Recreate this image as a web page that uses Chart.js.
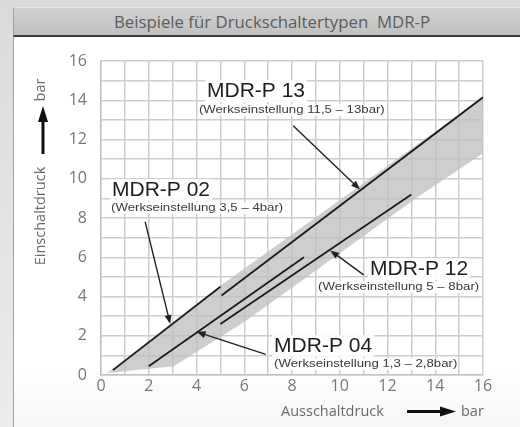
<!DOCTYPE html>
<html>
<head>
<meta charset="utf-8">
<script src="https://cdn.jsdelivr.net/npm/chart.js@4.4.1/dist/chart.umd.min.js"></script>
<style>
  html, body { margin: 0; padding: 0; }
  body {
    width: 520px; height: 427px; position: relative; overflow: hidden;
    background: linear-gradient(#dadada, #ececec);
    font-family: "Open Sans", sans-serif;
  }
  #panel {
    position: absolute; left: 13px; top: 7px; right: 0; bottom: 0;
    background: linear-gradient(#ffffff 85%, #f6f6f6);
    border-left: 1px solid #a0a0a0;
  }
  #titlebar {
    position: absolute; left: 13px; top: 7px; right: 0; height: 27px;
    background: linear-gradient(#d2d2d2, #c0c0c0);
    border-top: 1px solid #e6e6e6; border-left: 1px solid #a0a0a0;
    border-bottom: 2px solid #3c3c3c;
    color: #5c5c5c; font-size: 16.8px; line-height: 27px;
    text-align: center; white-space: pre; padding-left: 10px; box-sizing: content-box;
  }
  #chart { position: absolute; left: 0; top: 0; }
</style>
</head>
<body>
<div id="panel"></div>
<div id="titlebar">Beispiele für Druckschaltertypen  MDR-P</div>
<canvas id="chart" width="520" height="427"></canvas>
<script>
// axis ticks
const xTicks = [0, 2, 4, 6, 8, 10, 12, 14, 16];
const yTicks = [0, 2, 4, 6, 8, 10, 12, 14, 16];

// characteristic lines (Ausschaltdruck -> Einschaltdruck)
const line02 = [{ x: 0.5, y: 0.25 }, { x: 5.0, y: 4.5 }];
const line04 = [{ x: 2.0, y: 0.45 }, { x: 8.5, y: 6.0 }];
const line12 = [{ x: 5.0, y: 2.6 }, { x: 13.0, y: 9.2 }];
const line13 = [{ x: 5.05, y: 4.05 }, { x: 16.0, y: 14.15 }];

// shaded adjustment range
const bandX = [0.25, 5.0, 16.0, 16.0, 13.3, 6.0, 3.05];
const bandY = [0.1, 4.55, 14.15, 11.3, 9.1, 2.7, 0.45];

// annotation texts
const typeNames = ["MDR-P 02", "MDR-P 04", "MDR-P 12", "MDR-P 13"];
const settingTexts = [
  "(Werkseinstellung 3,5 – 4bar)",
  "(Werkseinstellung 1,3 – 2,8bar)",
  "(Werkseinstellung 5 – 8bar)",
  "(Werkseinstellung 11,5 – 13bar)"
];
// arrow tail / head for each type
const arrowTails = [{ x: 1.85, y: 7.8 }, { x: 6.9, y: 1.05 }, { x: 11.0, y: 5.1 }, { x: 8.05, y: 12.7 }];
const arrowHeads = [{ x: 2.9, y: 2.6 }, { x: 4.0, y: 2.2 }, { x: 9.6, y: 6.35 }, { x: 10.85, y: 9.45 }];

// where the texts sit (data units)
const namePos = [{ x: 0.46, y: 9.43 }, { x: 7.25, y: 1.48 }, { x: 11.27, y: 5.4 }, { x: 4.44, y: 14.47 }];
const notePos = [{ x: 0.42, y: 8.5 }, { x: 7.25, y: 0.56 }, { x: 9.09, y: 4.48 }, { x: 4.1, y: 13.5 }];

const band = bandX.map((v, i) => ({ x: v, y: bandY[i] }));

function lineSet(data) {
  return { data, showLine: true, borderColor: "#1c1c1c", borderWidth: 1.8, pointRadius: 0, fill: false };
}

const overlay = {
  id: "overlay",
  afterDatasetsDraw(chart) {
    const { ctx, scales: { x, y } } = chart;
    const px = v => x.getPixelForValue(v);
    const py = v => y.getPixelForValue(v);
    ctx.save();

    // labels
    ctx.textBaseline = "middle";
    ctx.textAlign = "left";
    typeNames.forEach((name, i) => {
      ctx.font = '21px "Liberation Sans", Arial, sans-serif';
      const w = ctx.measureText(name).width;
      const lx = px(namePos[i].x), ly = py(namePos[i].y);
      ctx.fillStyle = "rgba(255,255,255,0.9)";
      ctx.fillRect(lx - 2, ly - 11, w + 4, 22);
      ctx.fillStyle = "#1e1e1e";
      ctx.fillText(name, lx, ly);

      ctx.font = '10px "Liberation Sans", Arial, sans-serif';
      const nw = ctx.measureText(settingTexts[i]).width * 1.32;
      const nx = px(notePos[i].x), ny = py(notePos[i].y);
      ctx.fillStyle = "rgba(255,255,255,0.9)";
      ctx.fillRect(nx - 1, ny - 6, nw + 2, 12);
      ctx.save();
      ctx.translate(nx, ny);
      ctx.scale(1.32, 1);
      ctx.fillStyle = "#3a3a3a";
      ctx.fillText(settingTexts[i], 0, 0);
      ctx.restore();
    });

    // pointer arrows
    ctx.strokeStyle = "#222";
    ctx.fillStyle = "#222";
    ctx.lineWidth = 1.4;
    arrowTails.forEach((t, i) => {
      const h = arrowHeads[i];
      const x1 = px(t.x), y1 = py(t.y), x2 = px(h.x), y2 = py(h.y);
      const a = Math.atan2(y2 - y1, x2 - x1);
      const c = Math.cos(a), s = Math.sin(a);
      ctx.beginPath();
      ctx.moveTo(x1, y1);
      ctx.lineTo(x2 - 6 * c, y2 - 6 * s);
      ctx.stroke();
      ctx.beginPath();
      ctx.moveTo(x2, y2);
      ctx.lineTo(x2 - 9 * c + 3.5 * s, y2 - 9 * s - 3.5 * c);
      ctx.lineTo(x2 - 9 * c - 3.5 * s, y2 - 9 * s + 3.5 * c);
      ctx.closePath();
      ctx.fill();
    });

    // axis titles
    ctx.fillStyle = "#6a6a6a";
    ctx.font = '14.5px "Open Sans", sans-serif';
    ctx.textAlign = "left";
    ctx.fillText("Ausschaltdruck", 281, 412);
    ctx.fillText("bar", 461, 412);
    ctx.fillStyle = "#111";
    ctx.fillRect(407, 410, 34, 3);
    ctx.beginPath();
    ctx.moveTo(456, 411.5); ctx.lineTo(440, 406.5); ctx.lineTo(440, 416.5); ctx.closePath(); ctx.fill();

    ctx.save();
    ctx.translate(41, 216);
    ctx.rotate(-Math.PI / 2);
    ctx.textAlign = "center";
    ctx.fillStyle = "#6a6a6a";
    ctx.fillText("Einschaltdruck", 0, 0);
    ctx.restore();
    ctx.save();
    ctx.translate(41, 90);
    ctx.rotate(-Math.PI / 2);
    ctx.textAlign = "center";
    ctx.fillStyle = "#6a6a6a";
    ctx.fillText("bar", 0, 0);
    ctx.restore();
    ctx.fillStyle = "#111";
    ctx.fillRect(41.5, 120, 3, 34);
    ctx.beginPath();
    ctx.moveTo(43, 106); ctx.lineTo(38, 122); ctx.lineTo(48, 122); ctx.closePath(); ctx.fill();

    ctx.restore();
  }
};

new Chart(document.getElementById("chart"), {
  type: "scatter",
  data: {
    datasets: [
      lineSet(line02),
      lineSet(line04),
      lineSet(line12),
      lineSet(line13),
      { data: band, showLine: true, borderWidth: 0, borderColor: "rgba(0,0,0,0)", pointRadius: 0,
        backgroundColor: "rgba(190,190,190,0.75)", fill: "shape" }
    ]
  },
  options: {
    responsive: false,
    animation: false,
    layout: { padding: { top: 61, right: 37, left: 0, bottom: 0 } },
    plugins: { legend: { display: false }, tooltip: { enabled: false } },
    scales: {
      x: {
        type: "linear", min: 0, max: 16,
        afterFit: s => { s.height = 52; },
        ticks: {
          stepSize: 1, autoSkip: false, maxRotation: 0, padding: 2,
          color: "#777", font: { family: "Open Sans", size: 16 },
          callback: v => xTicks.includes(v) ? String(v) : ""
        },
        grid: { color: "#cdcdcd", lineWidth: 1.5, drawTicks: false },
        border: { color: "#c4c4c4", width: 1.5 }
      },
      y: {
        type: "linear", min: 0, max: 16,
        afterFit: s => { s.width = 101; },
        ticks: {
          stepSize: 1, autoSkip: false, padding: 14,
          color: "#777", font: { family: "Open Sans", size: 16 },
          callback: v => yTicks.includes(v) ? String(v) : ""
        },
        grid: { color: "#cdcdcd", lineWidth: 1.5, drawTicks: false },
        border: { color: "#c4c4c4", width: 1.5 }
      }
    }
  },
  plugins: [overlay]
});
</script>
</body>
</html>
